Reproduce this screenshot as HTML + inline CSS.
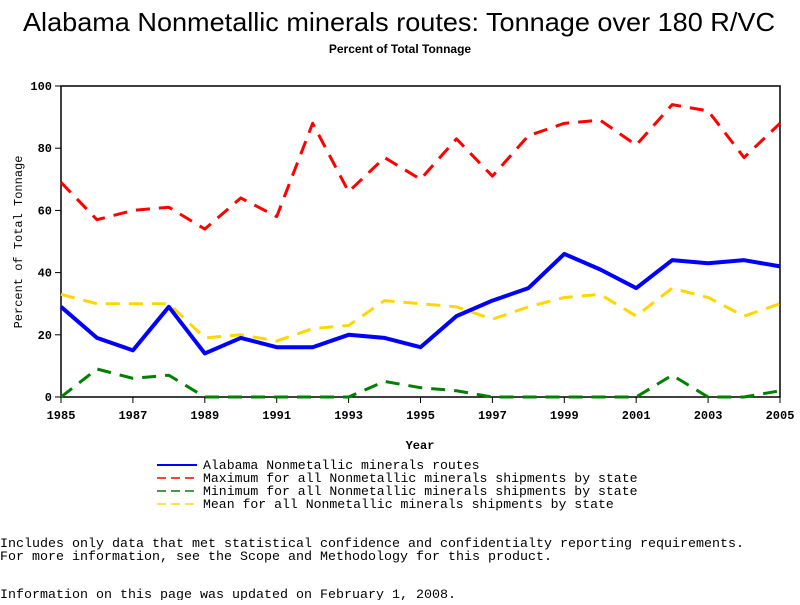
<!DOCTYPE html>
<html><head><meta charset="utf-8"><style>
body{margin:0;background:#fff;width:800px;height:600px;overflow:hidden;font-family:"Liberation Sans",sans-serif}
</style></head><body>
<svg id="c" width="800" height="600" xmlns="http://www.w3.org/2000/svg">
<text x="23" y="31" font-size="26" textLength="752" lengthAdjust="spacingAndGlyphs" font-family="Liberation Sans">Alabama Nonmetallic minerals routes: Tonnage over 180 R/VC</text>
<text x="400" y="53" text-anchor="middle" font-size="12" font-weight="bold" font-family="Liberation Sans">Percent of Total Tonnage</text>
<g id="plot"></g>
<text x="420" y="449" text-anchor="middle" font-size="12" font-weight="bold" font-family="Liberation Mono">Year</text>
<text transform="translate(22,242) rotate(-90)" text-anchor="middle" font-size="12" font-family="Liberation Mono">Percent of Total Tonnage</text>
<g id="legend" font-family="Liberation Mono" font-size="13"></g>
<g font-family="Liberation Mono" font-size="13">
<text x="0" y="547" textLength="744" lengthAdjust="spacingAndGlyphs">Includes only data that met statistical confidence and confidentialty reporting requirements.</text>
<text x="0" y="560" textLength="552" lengthAdjust="spacingAndGlyphs">For more information, see the Scope and Methodology for this product.</text>
<text x="0" y="598" textLength="456" lengthAdjust="spacingAndGlyphs">Information on this page was updated on February 1, 2008.</text>
</g>
</svg>
<script>
const years=[1985,1986,1987,1988,1989,1990,1991,1992,1993,1994,1995,1996,1997,1998,1999,2000,2001,2002,2003,2004,2005];
const routeVals=[29,19,15,29,14,19,16,16,20,19,16,26,31,35,46,41,35,44,43,44,42];
const maxVals=[69,57,60,61,54,64,58,88,66,77,70,83,71,84,88,89,81,94,92,77,88];
const minVals=[0,9,6,7,0,0,0,0,0,5,3,2,0,0,0,0,0,7,0,0,2];
const meanVals=[33,30,30,30,19,20,18,22,23,31,30,29,25,29,32,33,26,35,32,26,30];
const yTicks=[0,20,40,60,80,100];
const xTicks=[1985,1987,1989,1991,1993,1995,1997,1999,2001,2003,2005];
const NS="http://www.w3.org/2000/svg";
const L=61,R=780,T=86,B=397;
const xs=y=>L+(y-1985)/(2005-1985)*(R-L);
const ys=v=>B-v/100*(B-T);
const g=document.getElementById('plot');
function mk(t,a){const e=document.createElementNS(NS,t);for(const k in a)e.setAttribute(k,a[k]);return e;}
const frame=mk('rect',{x:L,y:T,width:R-L,height:B-T,fill:'none',stroke:'#000','stroke-width':1.5});


g.appendChild(frame);
yTicks.forEach(v=>{
 const l=mk('line',{x1:L-6,x2:L,y1:ys(v),y2:ys(v),stroke:'#000'});
 
 
 g.appendChild(l);
 const t=mk('text',{x:L-9,y:ys(v)+4,'text-anchor':'end','font-size':12,'font-weight':'bold','font-family':'Liberation Mono'});
 t.textContent=v;
 
 
 g.appendChild(t);
});
xTicks.forEach(v=>{
 const l=mk('line',{x1:xs(v),x2:xs(v),y1:B,y2:B+6,stroke:'#000'});
 
 
 g.appendChild(l);
 const t=mk('text',{x:xs(v),y:B+22,'text-anchor':'middle','font-size':12,'font-weight':'bold','font-family':'Liberation Mono'});
 t.textContent=v;
 
 
 g.appendChild(t);
});
const series=[
 {vals:maxVals,color:'#ff0000',dash:'14 9',name:'max-line',label:'Maximum for all Nonmetallic minerals shipments by state'},
 {vals:meanVals,color:'#ffd700',dash:'14 9',name:'mean-line',label:'Mean for all Nonmetallic minerals shipments by state'},
 {vals:minVals,color:'#008000',dash:'14 9',name:'min-line',label:'Minimum for all Nonmetallic minerals shipments by state'},
 {vals:routeVals,color:'#0000ff',dash:'',name:'route-line',label:'Alabama Nonmetallic minerals routes'}
];
series.forEach(s=>{
 const p=mk('polyline',{points:years.map((y,i)=>xs(y)+','+ys(s.vals[i])).join(' '),fill:'none',stroke:s.color,'stroke-width':s.dash?3:4,'stroke-dasharray':s.dash,'stroke-linejoin':'round'});
 
 
 g.appendChild(p);
});
const lg=document.getElementById('legend');
const order=[3,0,2,1];
order.forEach((si,k)=>{
 const s=series[si];const y=469+k*13;
 const l=mk('line',{x1:157,x2:197,y1:y-4,y2:y-4,stroke:s.color,'stroke-width':s.dash?1.5:2,'stroke-dasharray':s.dash?'9 5':''});
 
 
 lg.appendChild(l);
 const t=mk('text',{x:203,y:y,textLength:s.label.length*7.9,lengthAdjust:'spacingAndGlyphs'});
 t.textContent=s.label;
 
 
 lg.appendChild(t);
});
</script>
</body></html>
